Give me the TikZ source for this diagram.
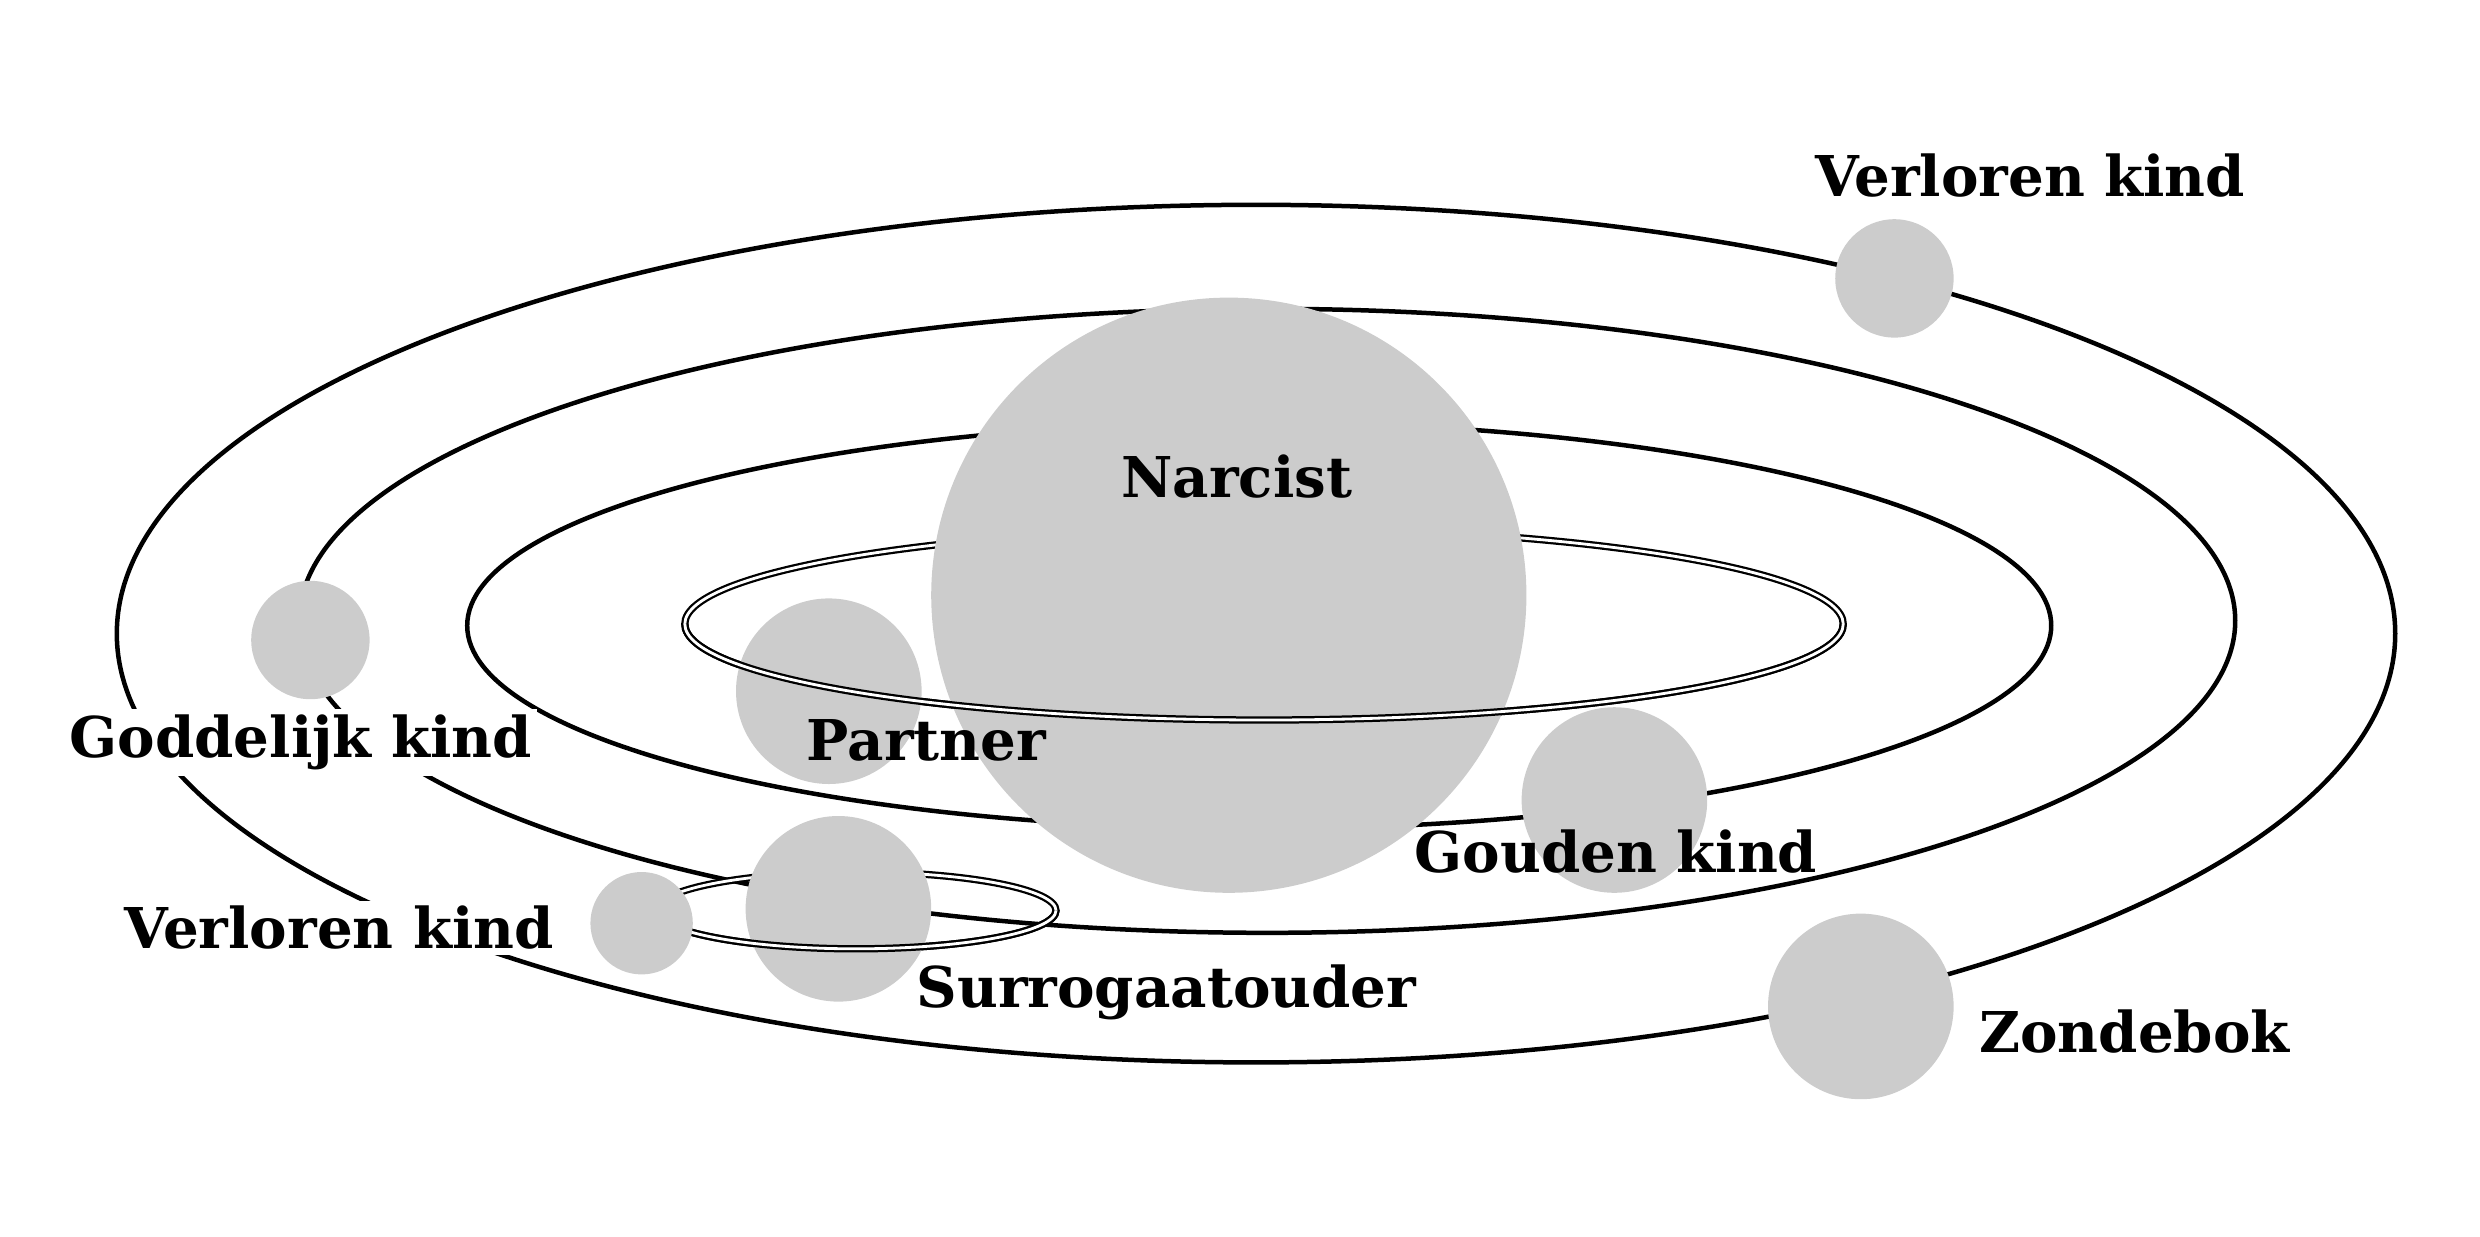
\documentclass[tikz,border=0pt]{standalone}
\usepackage{fontspec}
\setmainfont{DejaVu Serif}
\begin{document}
\begin{tikzpicture}[x=0.1mm,y=-0.1mm,
  orbit/.style={draw=black,line width=0.8pt},
  dorbit/.style={draw=black,line width=0.4pt,double=white,double distance=0.5pt},
  planet/.style={circle,fill=black!20,draw=none,inner sep=0pt},
  lbl/.style={font=\bfseries\fontsize{10}{12}\selectfont,inner sep=1pt},
  wlbl/.style={lbl,fill=white}]
\useasboundingbox (0,0) rectangle (1550,773);
\draw[orbit] (785,396) ellipse [x radius=712,y radius=268];
\draw[orbit] (792,388) ellipse [x radius=605,y radius=195];
\draw[orbit] (787,391) ellipse [x radius=495,y radius=127];
\draw[dorbit] (790,390) ellipse [x radius=362,y radius=60];
\draw[dorbit] (535,569) ellipse [x radius=125,y radius=24];
\node[planet,minimum size=37.2mm] (narcist) at (768,372) {};
\node[planet,minimum size=11.6mm] (partner) at (518,432) {};
\node[planet,minimum size=11.6mm] (gouden) at (1009,500) {};
\node[planet,minimum size=7.4mm] (verlorenA) at (1184,174) {};
\node[planet,minimum size=7.4mm] (goddelijk) at (194,400) {};
\node[planet,minimum size=11.6mm] (surrogaat) at (524,568) {};
\node[planet,minimum size=11.6mm] (zondebok) at (1163,629) {};
% front halves of the double orbits
\draw[dorbit] (428,390) arc[start angle=180,end angle=0,x radius=362,y radius=60];
\draw[dorbit] (410,569) arc[start angle=180,end angle=0,x radius=125,y radius=24];
\node[planet,minimum size=6.4mm] (verlorenB) at (401,577) {};
\node[lbl] (tA) at (1269,110) {Verloren kind};
\node[lbl] (tN) at (773,298) {Narcist};
\node[wlbl] (tG) at (188,464) {Goddelijk kind};
\node[lbl] (tP) at (579,463) {Partner};
\node[lbl] (tGo) at (1010,532) {Gouden kind};
\node[wlbl] (tB) at (212,580) {Verloren kind};
\node[lbl] (tS) at (729,620) {Surrogaatouder};
\node[lbl] (tZ) at (1334,645) {Zondebok};
\end{tikzpicture}
\end{document}
